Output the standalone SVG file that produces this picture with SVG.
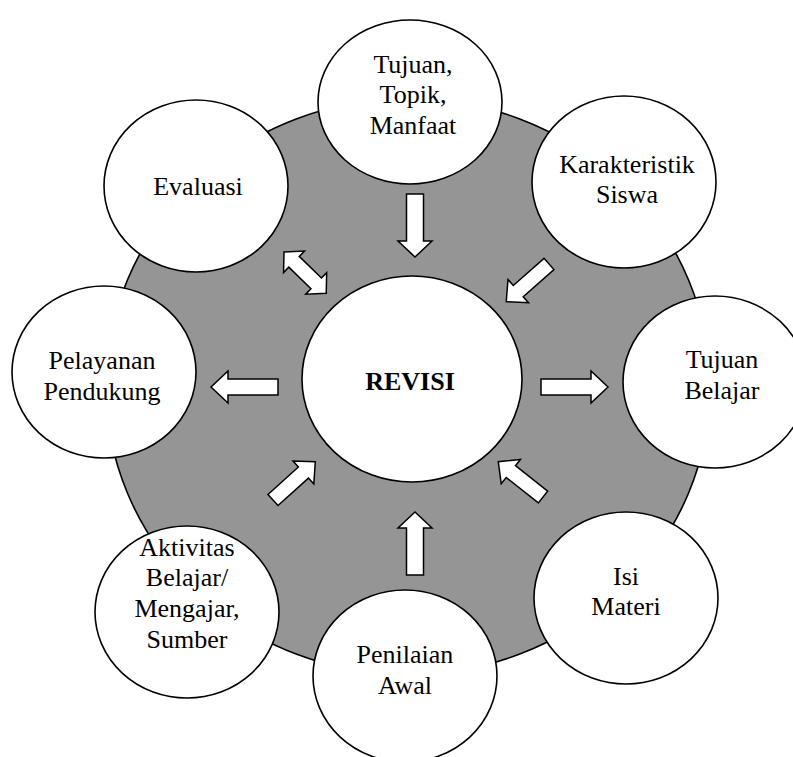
<svg xmlns="http://www.w3.org/2000/svg" width="793" height="757" viewBox="0 0 793 757">
  <style>
    .ring { fill: #959595; stroke: #000; stroke-width: 1.6; }
    .node { fill: #fff; stroke: #000; stroke-width: 1.6; }
    .arrow { fill: #fff; stroke: #000; stroke-width: 1.5; stroke-linejoin: miter; }
    text { font-family: "Liberation Serif", "Times New Roman", serif; font-size: 26px; fill: #000; text-anchor: middle; }
    .bold { font-weight: bold; }
  </style>
  <defs>
    <!-- block arrow along +x, tail at origin -->
    <path id="blk" d="M0,-7.5 H41 V-15.5 L57,0 L41,15.5 V7.5 H0 Z"/>
    <path id="blk2" d="M0,0 L14,-15 V-7.5 H45 V-15 L59,0 L45,15 V7.5 H14 V15 Z"/>
  </defs>

  <!-- background ring -->
  <ellipse class="ring" cx="408" cy="386.5" rx="302" ry="288"/>

  <!-- connectors -->
  <g id="connectors" class="arrow">
    <path d="M406.5,194 H423.5 V241 H432 L415,257 L398,241 H406.5 Z"/>
    <path d="M406.5,575 H423.5 V528 H432 L415,512 L398,528 H406.5 Z"/>
    <path d="M278,379 V395 H228 V403 L211,387 L228,371 V379 Z"/>
    <path d="M541,379 V395 H591 V403 L608,387 L591,371 V379 Z"/>
    <use href="#blk" transform="translate(549,264) rotate(138.6)"/>
    <use href="#blk" transform="translate(543,497) rotate(-141.7)"/>
    <use href="#blk" transform="translate(273,500) rotate(-42.1)"/>
    <use href="#blk2" transform="translate(284,252) rotate(44.3)"/>
  </g>

  <g id="revisi">
    <ellipse class="node" cx="412" cy="379" rx="110" ry="103"/>
    <text class="bold" x="410" y="390">REVISI</text>
  </g>

  <g id="tujuan-topik">
    <ellipse class="node" cx="410" cy="102" rx="92" ry="82"/>
    <text x="413" y="73">Tujuan,</text>
    <text x="413" y="103">Topik,</text>
    <text x="413" y="134">Manfaat</text>
  </g>

  <g id="karakteristik">
    <ellipse class="node" cx="624" cy="182" rx="92" ry="86"/>
    <text x="627" y="173">Karakteristik</text>
    <text x="627" y="203">Siswa</text>
  </g>

  <g id="tujuan-belajar">
    <ellipse class="node" cx="715" cy="382" rx="92" ry="86"/>
    <text x="722" y="368">Tujuan</text>
    <text x="722" y="399">Belajar</text>
  </g>

  <g id="isi-materi">
    <ellipse class="node" cx="626" cy="598" rx="92" ry="86"/>
    <text x="626" y="585">Isi</text>
    <text x="626" y="615">Materi</text>
  </g>

  <g id="penilaian">
    <ellipse class="node" cx="405" cy="676" rx="92" ry="86"/>
    <text x="405" y="663">Penilaian</text>
    <text x="405" y="694">Awal</text>
  </g>

  <g id="aktivitas">
    <ellipse class="node" cx="187" cy="612" rx="92" ry="86"/>
    <text x="187" y="556">Aktivitas</text>
    <text x="187" y="586">Belajar/</text>
    <text x="187" y="617">Mengajar,</text>
    <text x="187" y="648">Sumber</text>
  </g>

  <g id="pelayanan">
    <ellipse class="node" cx="104" cy="372" rx="92" ry="86"/>
    <text x="102" y="369">Pelayanan</text>
    <text x="102" y="400">Pendukung</text>
  </g>

  <g id="evaluasi">
    <ellipse class="node" cx="196" cy="186" rx="92" ry="86"/>
    <text x="198" y="195">Evaluasi</text>
  </g>
</svg>
